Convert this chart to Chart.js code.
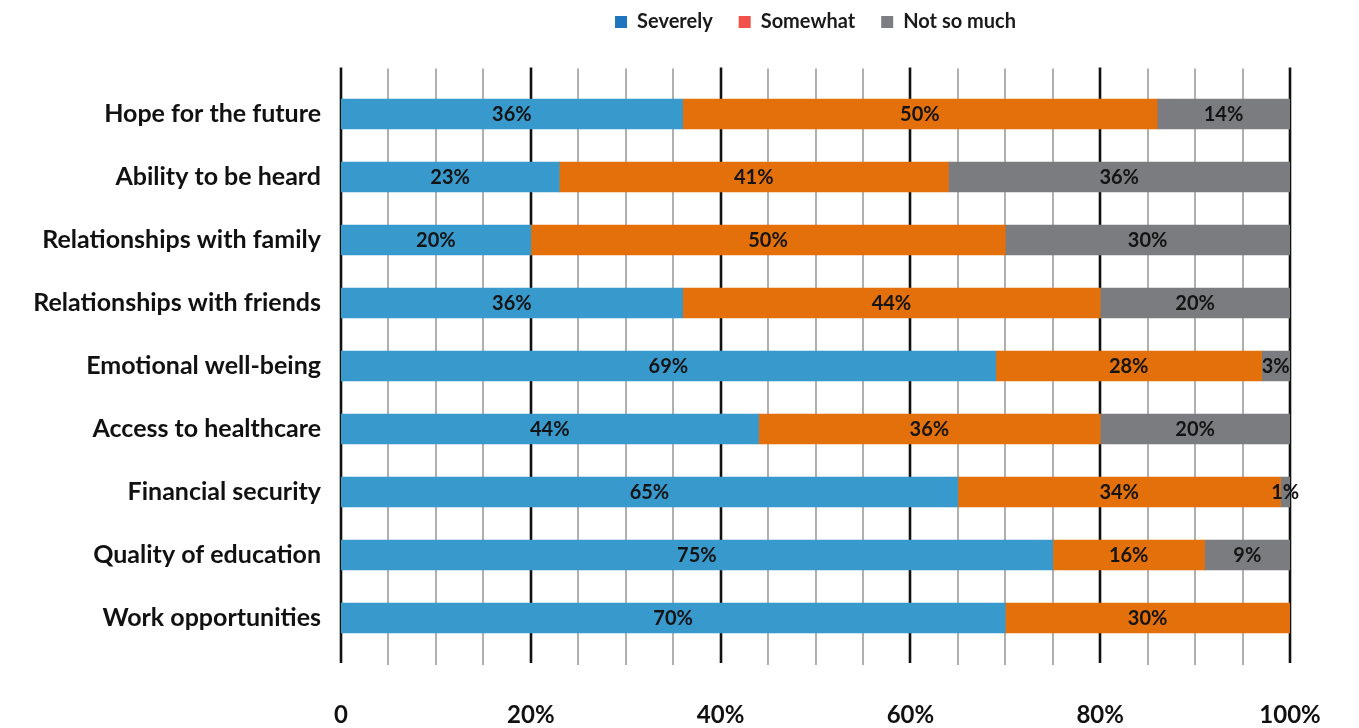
<!DOCTYPE html>
<html>
<head>
<meta charset="utf-8">
<script src="https://cdn.jsdelivr.net/npm/chart.js@4.4.1/dist/chart.umd.min.js"></script>
<style>
  html, body { margin: 0; padding: 0; background: #fff; }
  #wrap { width: 1359px; height: 728px; position: relative; }
</style>
</head>
<body>
<div id="wrap"><canvas id="chart"></canvas></div>
<script>
// Survey areas and how strongly each was affected (percent of respondents)
const categories = [
  'Hope for the future',
  'Ability to be heard',
  'Relationships with family',
  'Relationships with friends',
  'Emotional well-being',
  'Access to healthcare',
  'Financial security',
  'Quality of education',
  'Work opportunities'
];
const severely  = [36, 23, 20, 36, 69, 44, 65, 75, 70];
const somewhat  = [50, 41, 50, 44, 28, 36, 34, 16, 30];
const notSoMuch = [14, 36, 30, 20, 3, 20, 1, 9, 0];
const xTicks = [0, 20, 40, 60, 80, 100];
const seriesNames = ['Severely', 'Somewhat', 'Not so much'];

const FONT = "Lato, 'Open Sans', sans-serif";
const barColors = ['#3899cd', '#e3700a', '#7b7c80'];
const legendColors = ['#1f74be', '#f2504a', '#7d7e83'];

// Vertical grid: thin lines every 5%, heavy lines on the labelled ticks
const gridPlugin = {
  id: 'percentGrid',
  beforeDatasetsDraw(chart) {
    const { ctx, chartArea, scales } = chart;
    const x = scales.x;
    const top = chartArea.top - 15;
    const bottom = chartArea.bottom + 15.5;
    ctx.save();
    for (let v = 0; v <= 100; v += 5) {
      const px = Math.round(x.getPixelForValue(v));
      const major = xTicks.includes(v);
      ctx.beginPath();
      ctx.lineWidth = major ? 2.6 : 1.3;
      ctx.strokeStyle = major ? '#111' : '#858585';
      ctx.moveTo(px, major ? top : top + 1);
      ctx.lineTo(px, major ? bottom - 2 : bottom);
      ctx.stroke();
    }
    ctx.restore();
  }
};

// Value labels centred in each bar segment
const valueLabels = {
  id: 'valueLabels',
  afterDatasetsDraw(chart) {
    const { ctx } = chart;
    ctx.save();
    ctx.font = "bold 20px " + FONT;
    ctx.fillStyle = '#141414';
    ctx.textAlign = 'center';
    ctx.textBaseline = 'middle';
    chart.data.datasets.forEach((ds, di) => {
      const meta = chart.getDatasetMeta(di);
      meta.data.forEach((bar, i) => {
        const v = ds.data[i];
        if (!v) return;
        const cx = (bar.x + bar.base) / 2;
        ctx.fillText(v + '%', cx, bar.y + 1);
      });
    });
    ctx.restore();
  }
};

// Reserve a fixed band for the legend above the plot
const legendBand = {
  id: 'legendBand',
  beforeLayout(chart) {
    const lg = chart.legend;
    if (lg && !lg._bandPatched) {
      const fit = lg.fit.bind(lg);
      lg.fit = function () { fit(); this.height = 96.5; };
      lg._bandPatched = true;
    }
  }
};

new Chart(document.getElementById('chart'), {
  type: 'bar',
  data: {
    labels: categories,
    datasets: [severely, somewhat, notSoMuch].map((d, i) => ({
      label: seriesNames[i],
      data: d,
      backgroundColor: barColors[i],
      borderWidth: 0,
      barThickness: 30
    }))
  },
  options: {
    indexAxis: 'y',
    responsive: true,
    maintainAspectRatio: false,
    animation: false,
    layout: { padding: { left: 10, right: 69, top: -14, bottom: 0 } },
    plugins: {
      tooltip: { enabled: false },
      legend: {
        position: 'top',
        fullSize: false,
        labels: {
          boxWidth: 12,
          boxHeight: 12,
          padding: 26,
          color: '#1a1a1a',
          font: { family: FONT, size: 20, weight: 'bold' },
          generateLabels(chart) {
            return chart.data.datasets.map((ds, i) => ({
              text: ds.label,
              fillStyle: legendColors[i],
              strokeStyle: legendColors[i],
              lineWidth: 0,
              fontColor: '#1a1a1a',
              datasetIndex: i
            }));
          }
        }
      }
    },
    scales: {
      x: {
        stacked: true,
        min: 0,
        max: 100,
        grid: { display: false, drawTicks: false },
        border: { display: false },
        afterBuildTicks(scale) {
          scale.ticks = xTicks.map(v => ({ value: v }));
        },
        afterFit(scale) {
          scale.height = 78.5;
          scale.paddingLeft = 0;
          scale.paddingRight = 0;
        },
        ticks: {
          padding: 51,
          color: '#111',
          font: { family: FONT, size: 24, weight: 'bold' },
          callback: v => (v === 0 ? '0' : v + '%')
        }
      },
      y: {
        stacked: true,
        grid: { display: false, drawTicks: false },
        border: { display: false },
        afterFit(scale) { scale.width = 331; },
        ticks: {
          padding: 20,
          color: '#111',
          font: { family: FONT, size: 25, weight: 'bold' }
        }
      }
    }
  },
  plugins: [legendBand, gridPlugin, valueLabels]
});
</script>
</body>
</html>
